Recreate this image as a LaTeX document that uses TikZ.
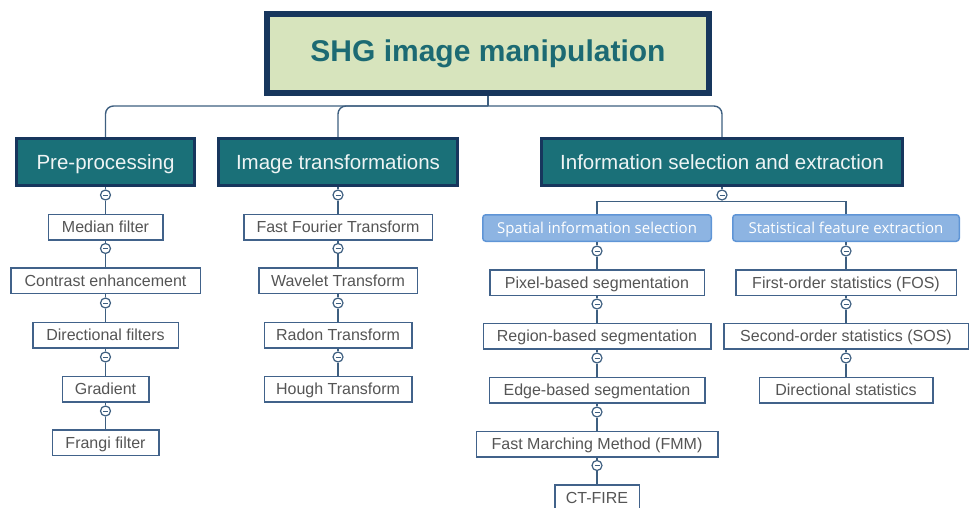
\documentclass[tikz,border=0pt]{standalone}
\usepackage{fontspec}
\setmainfont{Liberation Sans}
\newfontfamily\blueface{Open Sans}
\definecolor{navy}{HTML}{17365D}
\definecolor{titleF}{HTML}{D7E4BD}
\definecolor{titleT}{HTML}{1C6A73}
\definecolor{catF}{HTML}{1A7078}
\definecolor{catT}{HTML}{EEF4F4}
\definecolor{lineC}{HTML}{3E5F80}
\definecolor{boxC}{HTML}{41628A}
\definecolor{leafT}{HTML}{555555}
\definecolor{blueF}{HTML}{8DB4E2}
\definecolor{blueB}{HTML}{5F95D6}
\begin{document}
\begin{tikzpicture}[x=1pt,y=-1pt,
  conn/.style={draw=lineC, line width=1.4pt},
  titlebox/.style={draw=navy, line width=6pt, fill=titleF, text=titleT, font=\fontsize{30}{36}\selectfont\bfseries, minimum width=442pt, minimum height=79pt, inner sep=0pt},
  catbox/.style={draw=navy, line width=3pt, fill=catF, text=catT, font=\fontsize{20.5}{24}\selectfont, minimum height=47pt, inner sep=0pt, text height=16.5pt, text depth=1.8pt},
  leaf/.style={draw=boxC, line width=1.5pt, fill=white, text=leafT, font=\fontsize{16}{19}\selectfont, minimum height=25.5pt, inner sep=0pt, text height=13pt, text depth=1.5pt},
  subbox/.style={draw=blueB, line width=1.5pt, fill=blueF, text=white, rounded corners=3pt, font=\blueface\fontsize{15}{18}\selectfont, minimum height=26.5pt, inner sep=0pt, text height=12.2pt, text depth=1.5pt},
  tog/.style={circle, draw=lineC, line width=1.2pt, fill=white, minimum size=10pt, inner sep=0pt,
    path picture={\draw[lineC, line width=0.9pt] ([xshift=-2.5pt]path picture bounding box.center) -- ([xshift=2.5pt]path picture bounding box.center);}},
]
\useasboundingbox (0,0) rectangle (972,508);

% title
\node[titlebox] (title) at (488,53.5) {SHG image manipulation};
\coordinate (hub) at (488,106);

% categories
\node[catbox, minimum width=178pt] (pre) at (105.5,162) {Pre-processing};
\node[catbox, minimum width=239pt] (img) at (338,162) {Image transformations};
\node[catbox, minimum width=361pt] (info) at (722,162) {Information selection and extraction};

\draw[conn] (title) -- (hub);
\draw[conn, rounded corners=8pt] (pre) |- (hub);
\draw[conn, rounded corners=8pt] (img) |- (hub);
\draw[conn, rounded corners=8pt] (info) |- (hub);

% pre-processing column
\node[tog] (p0) at (105.5,195) {};
\node[leaf, minimum width=114.5pt] (med) at (105.5,227) {Median filter};
\node[tog] (p1) at (105.5,248.5) {};
\node[leaf, minimum width=189.5pt] (con) at (105.5,280.5) {Contrast enhancement};
\node[tog] (p2) at (105.5,303) {};
\node[leaf, minimum width=145.5pt] (dir) at (105.5,335) {Directional filters};
\node[tog] (p3) at (105.5,357) {};
\node[leaf, minimum width=86.5pt] (gra) at (105.5,389) {Gradient};
\node[tog] (p4) at (105.5,411) {};
\node[leaf, minimum width=106.5pt] (fra) at (105.5,442.5) {Frangi filter};
\draw[conn] (pre) -- (p0) -- (med) -- (p1) -- (con) -- (p2) -- (dir) -- (p3) -- (gra) -- (p4) -- (fra);

% image transformations column
\node[tog] (i0) at (338,195) {};
\node[leaf, minimum width=188.5pt] (fft) at (338,227) {Fast Fourier Transform};
\node[tog] (i1) at (338,248.5) {};
\node[leaf, minimum width=158.5pt] (wav) at (338,280.5) {Wavelet Transform};
\node[tog] (i2) at (338,303) {};
\node[leaf, minimum width=147.5pt] (rad) at (338,335) {Radon Transform};
\node[tog] (i3) at (338,357) {};
\node[leaf, minimum width=147.5pt] (hou) at (338,389) {Hough Transform};
\draw[conn] (img) -- (i0) -- (fft) -- (i1) -- (wav) -- (i2) -- (rad) -- (i3) -- (hou);

% information column
\node[tog] (n0) at (722,195) {};
\coordinate (hub2) at (722,201.5);
\node[subbox, minimum width=228.5pt] (spa) at (597,228) {Spatial information selection};
\node[subbox, minimum width=226.5pt] (sta) at (846,228) {Statistical feature extraction};
\draw[conn] (info) -- (n0) -- (hub2);
\draw[conn] (spa) |- (hub2);
\draw[conn] (sta) |- (hub2);

\node[tog] (s0) at (597,251) {};
\node[leaf, minimum width=214.5pt] (pix) at (597,282.5) {Pixel-based segmentation};
\node[tog] (s1) at (597,304) {};
\node[leaf, minimum width=227.5pt] (reg) at (597,336) {Region-based segmentation};
\node[tog] (s2) at (597,358) {};
\node[leaf, minimum width=215.5pt] (edg) at (597,390) {Edge-based segmentation};
\node[tog] (s3) at (597,412) {};
\node[leaf, minimum width=241.5pt] (fmm) at (597,444) {Fast Marching Method (FMM)};
\node[tog] (s4) at (597,465.5) {};
\node[leaf, minimum width=84.5pt] (ctf) at (597,497.5) {CT-FIRE};
\draw[conn] (spa) -- (s0) -- (pix) -- (s1) -- (reg) -- (s2) -- (edg) -- (s3) -- (fmm) -- (s4) -- (ctf);

\node[tog] (t0) at (846,251) {};
\node[leaf, minimum width=220.5pt] (fos) at (846,282.5) {First-order statistics (FOS)};
\node[tog] (t1) at (846,304) {};
\node[leaf, minimum width=244.5pt] (sos) at (846,336) {Second-order statistics (SOS)};
\node[tog] (t2) at (846,358) {};
\node[leaf, minimum width=173.5pt] (dst) at (846,390) {Directional statistics};
\draw[conn] (sta) -- (t0) -- (fos) -- (t1) -- (sos) -- (t2) -- (dst);
\end{tikzpicture}
\end{document}
